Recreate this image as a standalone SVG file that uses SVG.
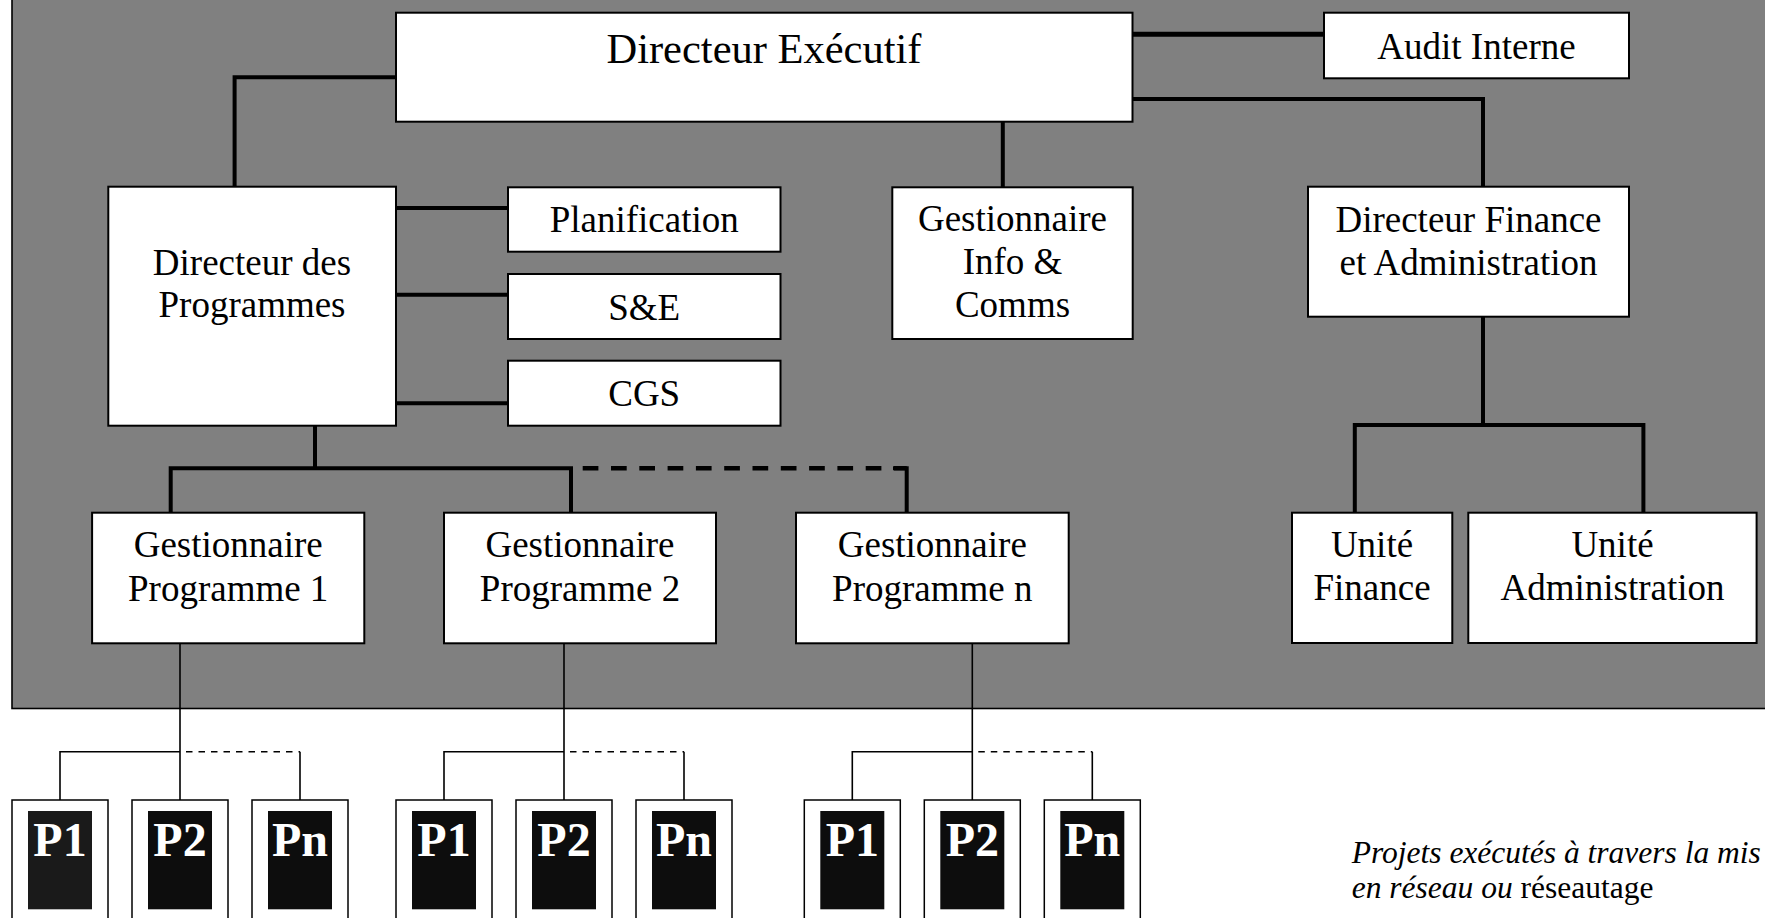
<svg xmlns="http://www.w3.org/2000/svg" width="1765" height="918" viewBox="0 0 1765 918">
<style>
.box{fill:#fff;stroke:#000;stroke-width:2}
.t{font-family:"Liberation Serif","Times New Roman",serif;font-size:37px;fill:#000;text-anchor:middle}
.thick{fill:none;stroke:#000;stroke-width:4}
.dash{fill:none;stroke:#000;stroke-width:4.5;stroke-dasharray:15.7 12.6}
.thin{fill:none;stroke:#000;stroke-width:1.6}
.tdash{fill:none;stroke:#000;stroke-width:1.6;stroke-dasharray:6.5 6}
.pout{fill:#fff;stroke:#000;stroke-width:1.5}
.pin{fill:#0d0d0d}
.pt{font-family:"Liberation Serif","Times New Roman",serif;font-size:48px;font-weight:bold;fill:#fff;text-anchor:middle}
</style>
<rect width="1765" height="918" fill="#fff"/>
<rect id="background" x="12" y="-5" width="1800" height="713.5" fill="#808080" stroke="#000" stroke-width="1.6"/>
<g id="connectors">
<path class="thick" d="M396,77.3H234.6V186.7"/>
<path d="M1132,34.2H1324" fill="none" stroke="#000" stroke-width="5"/>
<path class="thick" d="M1132,99H1483V186.7" stroke-width="3.5"/>
<path class="thick" d="M1002.8,121.7V187.3" stroke-width="3"/>
<path class="thick" d="M396,208H508M396,294.7H508M396,403.3H508"/>
<path class="thick" d="M315,425.7V468.3M170.7,512.7V468.3H571V512.7"/>
<path class="dash" d="M582.7,468.3H906.7"/>
<path class="thick" d="M893,468.3H906.7V512.7"/>
<path class="thick" d="M1483,316.7V425M1354.8,512.7V425H1643.4V512.7"/>
<path class="thin" d="M180,631.7V800M60,800V751.7H180"/>
<path class="tdash" d="M186,751.7H300"/>
<path class="thin" d="M300,751.7V800"/>
<path class="thin" d="M564,631.7V800M444,800V751.7H564"/>
<path class="tdash" d="M570,751.7H684"/>
<path class="thin" d="M684,751.7V800"/>
<path class="thin" d="M972.3,631.7V800M852.3,800V751.7H972.3"/>
<path class="tdash" d="M978.3,751.7H1092.3"/>
<path class="thin" d="M1092.3,751.7V800"/>
</g>
<g id="directeur-executif"><rect class="box" x="396" y="12.7" width="736.5" height="109"/><text class="t" x="764" y="63.3" style="font-size:42.5px">Directeur Exécutif</text></g>
<g id="audit-interne"><rect class="box" x="1324" y="12.7" width="305" height="65.6"/><text class="t" x="1476.5" y="59.3">Audit Interne</text></g>
<g id="directeur-programmes"><rect class="box" x="108.3" y="186.7" width="287.7" height="239"/><text class="t" x="252" y="275">Directeur des</text><text class="t" x="252" y="316.7">Programmes</text></g>
<g id="planification"><rect class="box" x="508" y="187.3" width="272.5" height="64.4"/><text class="t" x="644.2" y="232.3">Planification</text></g>
<g id="se"><rect class="box" x="508" y="274" width="272.5" height="65"/><text class="t" x="644.2" y="319.5">S&amp;E</text></g>
<g id="cgs"><rect class="box" x="508" y="360.7" width="272.5" height="65"/><text class="t" x="644.2" y="406">CGS</text></g>
<g id="gestionnaire-info"><rect class="box" x="892.3" y="187.3" width="240.4" height="151.7"/><text class="t" x="1012.5" y="230.7">Gestionnaire</text><text class="t" x="1012.5" y="274">Info &amp;</text><text class="t" x="1012.5" y="316.7">Comms</text></g>
<g id="directeur-finance"><rect class="box" x="1308" y="186.7" width="321" height="130"/><text class="t" x="1468.5" y="232.3">Directeur Finance</text><text class="t" x="1468.5" y="275">et Administration</text></g>
<g id="gp1"><rect class="box" x="92.1" y="512.7" width="272.2" height="130.6"/><text class="t" x="228.2" y="557.3">Gestionnaire</text><text class="t" x="228.2" y="600.7">Programme 1</text></g>
<g id="gp2"><rect class="box" x="444" y="512.7" width="272" height="130.6"/><text class="t" x="580" y="557.3">Gestionnaire</text><text class="t" x="580" y="600.7">Programme 2</text></g>
<g id="gpn"><rect class="box" x="796" y="512.7" width="272.7" height="130.6"/><text class="t" x="932.3" y="557.3">Gestionnaire</text><text class="t" x="932.3" y="600.7">Programme n</text></g>
<g id="unite-finance"><rect class="box" x="1292" y="512.7" width="160.3" height="130.3"/><text class="t" x="1372" y="557.3">Unité</text><text class="t" x="1372" y="600">Finance</text></g>
<g id="unite-admin"><rect class="box" x="1468.3" y="512.7" width="288.3" height="130.3"/><text class="t" x="1612.5" y="557.3">Unité</text><text class="t" x="1612.5" y="600">Administration</text></g>
<g id="g1-p1"><rect class="pout" x="12" y="800" width="96" height="130"/><rect class="pin" x="28" y="811" width="64" height="98.3" style="fill:#1a1a1a"/><text class="pt" x="60" y="856">P1</text></g>
<g id="g1-p2"><rect class="pout" x="132" y="800" width="96" height="130"/><rect class="pin" x="148" y="811" width="64" height="98.3"/><text class="pt" x="180" y="856">P2</text></g>
<g id="g1-pn"><rect class="pout" x="252" y="800" width="96" height="130"/><rect class="pin" x="268" y="811" width="64" height="98.3"/><text class="pt" x="300" y="856">Pn</text></g>
<g id="g2-p1"><rect class="pout" x="396" y="800" width="96" height="130"/><rect class="pin" x="412" y="811" width="64" height="98.3"/><text class="pt" x="444" y="856">P1</text></g>
<g id="g2-p2"><rect class="pout" x="516" y="800" width="96" height="130"/><rect class="pin" x="532" y="811" width="64" height="98.3"/><text class="pt" x="564" y="856">P2</text></g>
<g id="g2-pn"><rect class="pout" x="636" y="800" width="96" height="130"/><rect class="pin" x="652" y="811" width="64" height="98.3"/><text class="pt" x="684" y="856">Pn</text></g>
<g id="g3-p1"><rect class="pout" x="804.3" y="800" width="96" height="130"/><rect class="pin" x="820.3" y="811" width="64" height="98.3"/><text class="pt" x="852.3" y="856">P1</text></g>
<g id="g3-p2"><rect class="pout" x="924.3" y="800" width="96" height="130"/><rect class="pin" x="940.3" y="811" width="64" height="98.3"/><text class="pt" x="972.3" y="856">P2</text></g>
<g id="g3-pn"><rect class="pout" x="1044.3" y="800" width="96" height="130"/><rect class="pin" x="1060.3" y="811" width="64" height="98.3"/><text class="pt" x="1092.3" y="856">Pn</text></g>
<g id="note" font-family="'Liberation Serif','Times New Roman',serif" font-size="31.5" fill="#000">
<text x="1351.7" y="863.3" font-style="italic">Projets exécutés à travers la mis</text>
<text x="1351.7" y="898.3"><tspan font-style="italic">en réseau ou </tspan>réseautage</text>
</g>
</svg>
